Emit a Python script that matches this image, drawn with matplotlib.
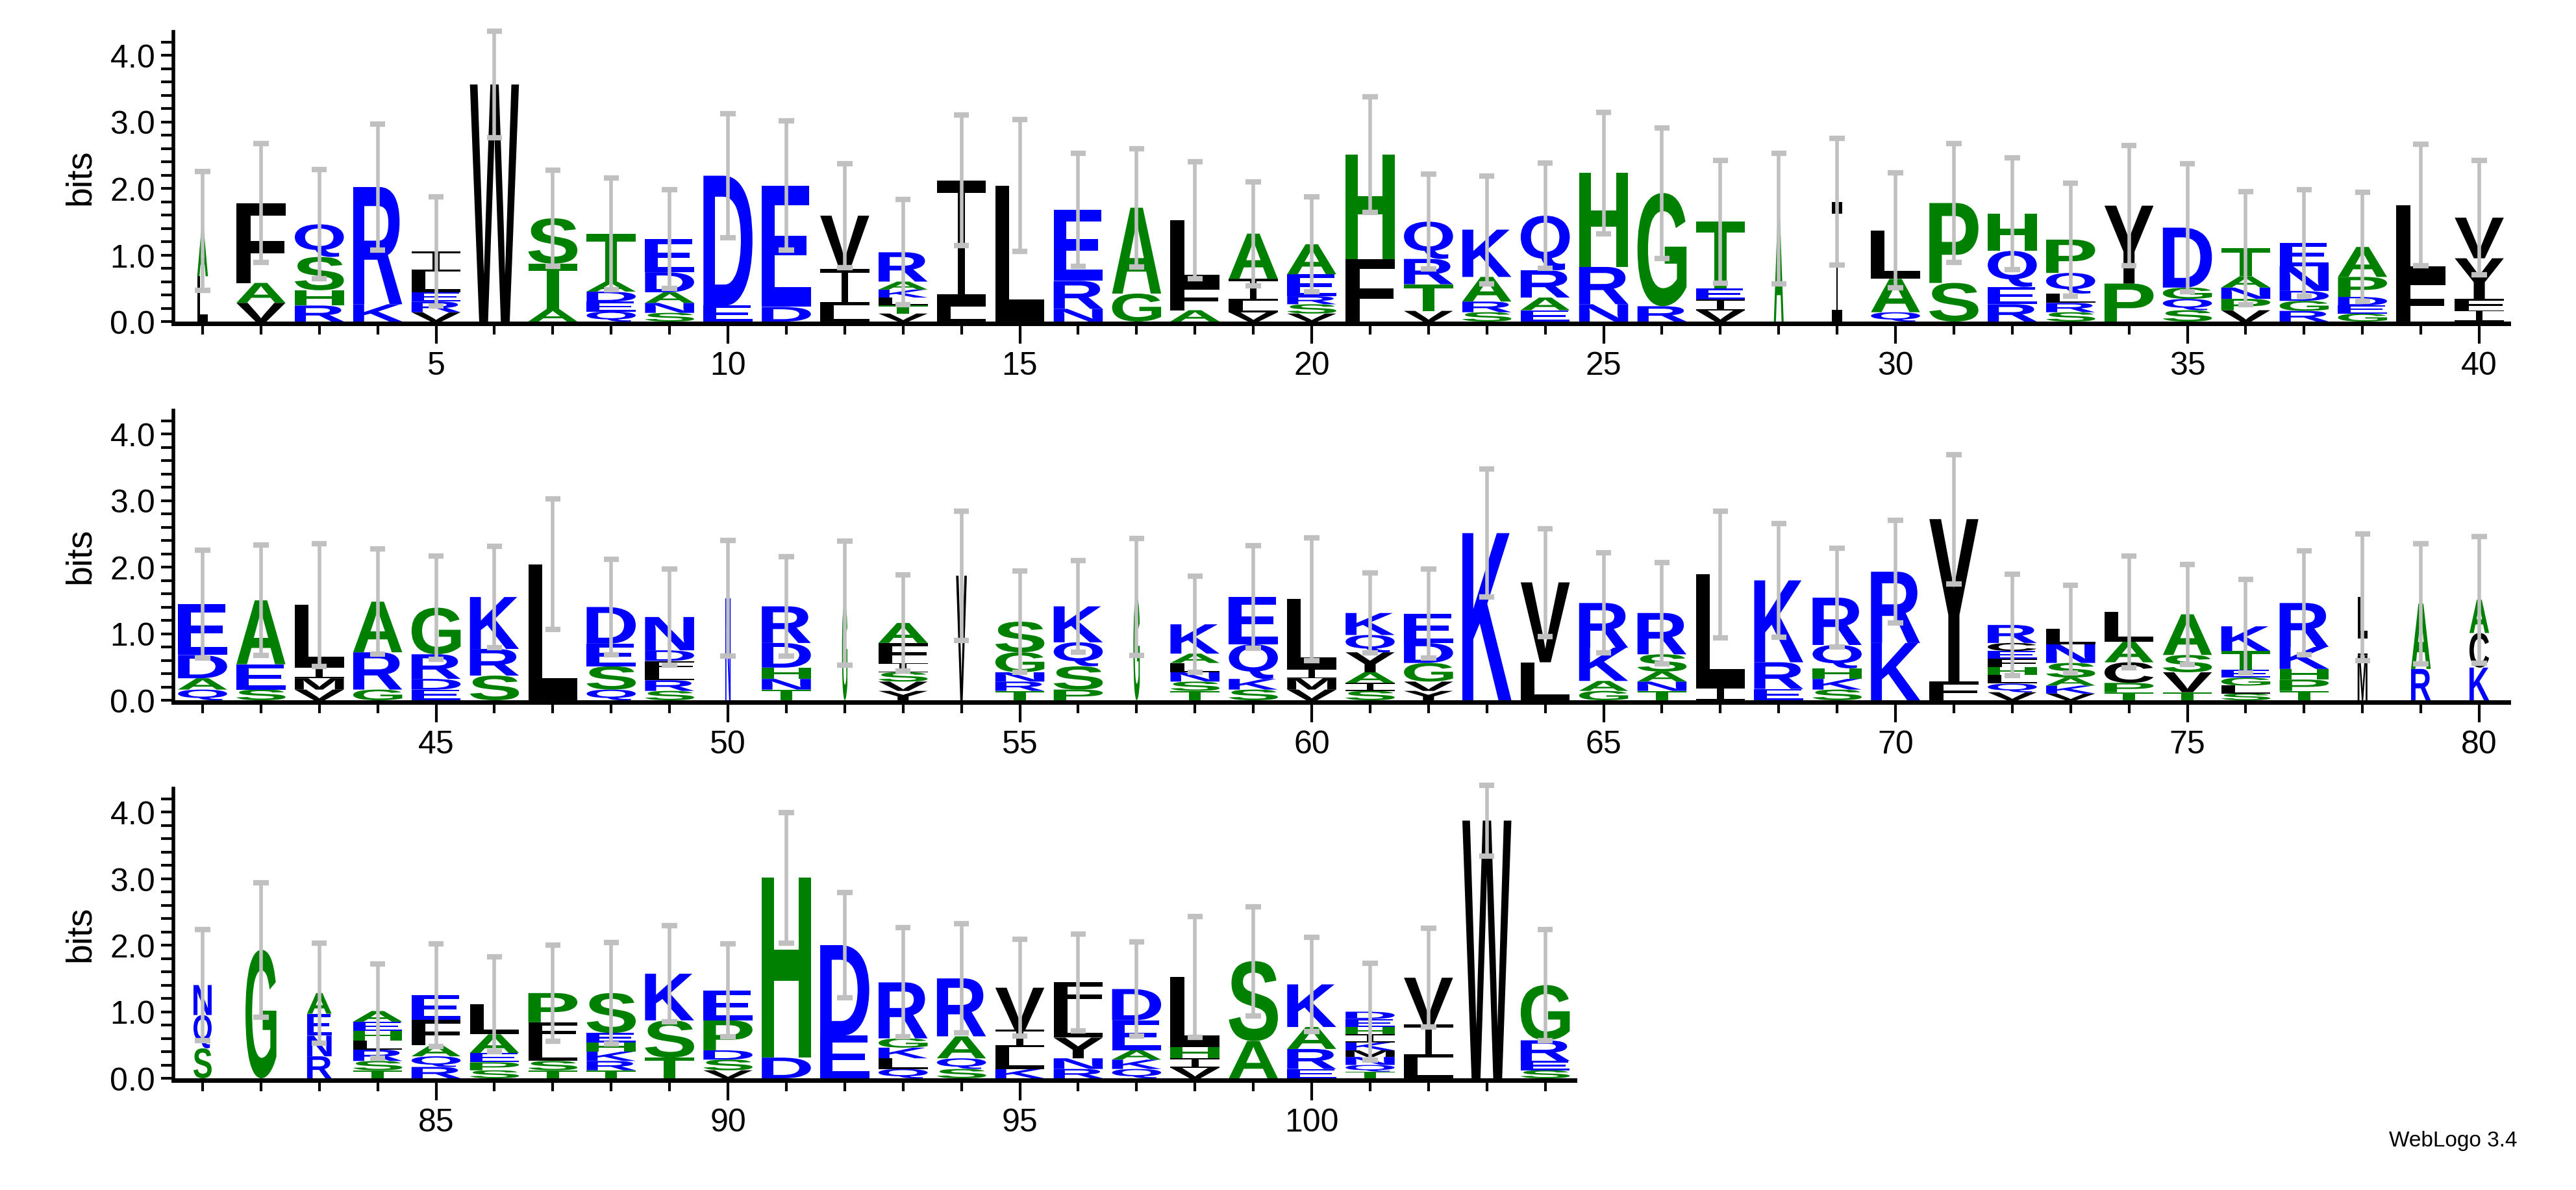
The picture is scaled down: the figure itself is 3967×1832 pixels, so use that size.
import matplotlib
matplotlib.use("Agg")
import matplotlib.pyplot as plt
from matplotlib.textpath import TextPath
from matplotlib.font_manager import FontProperties
from matplotlib.patches import PathPatch
from matplotlib.path import Path
from matplotlib.transforms import Affine2D

# letters per position, bottom -> top
letters = ["LA","VAF","RHSQ","KR","VRELI","W","ATS","QEDAT","SNADE","ED",
           "DE","LIV","VTLKAR","LI","L","NRE","GA","AFL","VLIA","VSREA",
           "FH","VTRQ","SRAK","EARQ","NRH","RG","VIET","A","I","QAL",
           "SP","REQH","SRLQP","PY","SQGD","VPNAT","RGDNE","GEDPA","FL","IFYV",
           "QADE","SEA","VMIL","GRA","EDRG","SRK","L","QSED","SRLFDN","N",
           "TNHDR","G","YVSIFA","V","TRNGS","PSQK","G","TSNLAK","SKQE","VMIL",
           "SIAYQK","YVGDE","K","LV","GAKR","TNASR","IL","ERK","SKHQR","KR",
           "FY","VQLHFECR","VKASNL","TPCAL","TVSA","SLGETK","TPHKR","MIL","RA","KCA",
           "SQN","G","RNEA","TSRLHEA","RQAFE","SPEAL","TSLFP","TRKHES","TSK","VSDPE",
           "DH","ED","QLKGR","SQAR","KLIV","RNYLF","QKAED","VIHL","AS","ERAK",
           "TQNMKIHED","LIV","W","SERG"]
heights = [[0.68,0.68],[0.28,0.30,1.20],[0.24,0.23,0.50,0.49],[0.26,1.76],[0.14,0.16,0.14,0.31,0.30],
           [3.56],[0.19,0.68,0.68],[0.15,0.15,0.15,0.15,0.72],[0.13,0.15,0.16,0.30,0.50],[0.24,1.95],
           [0.22,1.82],[0.24,0.55,0.80],[0.12,0.12,0.12,0.12,0.12,0.44],[0.22,1.90],[2.04],
           [0.19,0.42,1.07],[0.42,1.29],[0.17,0.37,0.98],[0.14,0.17,0.33,0.68],[0.12,0.14,0.12,0.33,0.45],
           [0.94,1.57],[0.16,0.40,0.38,0.56],[0.14,0.16,0.37,0.71],[0.17,0.19,0.41,0.82],[0.26,0.56,1.41],
           [0.23,1.70],[0.17,0.16,0.17,1.00],[1.55],[1.80],[0.14,0.50,0.73],
           [0.58,1.20],[0.26,0.26,0.54,0.56],[0.14,0.14,0.14,0.31,0.50],[0.57,1.17],[0.17,0.17,0.17,0.90],
           [0.17,0.17,0.17,0.17,0.42],[0.16,0.15,0.15,0.37,0.35],[0.12,0.12,0.13,0.30,0.45],[0.65,1.10],[0.17,0.17,0.61,0.61],
           [0.16,0.17,0.35,0.76],[0.16,0.38,0.96],[0.16,0.17,0.17,0.93],[0.16,0.56,0.76],[0.16,0.16,0.37,0.70],
           [0.37,0.40,0.78],[2.04],[0.16,0.35,0.34,0.55],[0.14,0.16,0.14,0.15,0.16,0.50],[1.53],
           [0.16,0.16,0.17,0.37,0.55],[1.46],[0.14,0.14,0.14,0.14,0.30,0.30],[1.87],[0.14,0.14,0.14,0.30,0.46],
           [0.16,0.35,0.36,0.54],[1.55],[0.14,0.14,0.14,0.14,0.14,0.44],[0.16,0.16,0.52,0.71],[0.16,0.17,0.14,1.05],
           [0.14,0.12,0.16,0.30,0.26,0.33],[0.14,0.14,0.28,0.30,0.44],[2.51],[0.57,1.20],[0.14,0.15,0.50,0.67],
           [0.14,0.14,0.15,0.26,0.62],[0.19,1.70],[0.17,0.40,1.23],[0.16,0.16,0.16,0.35,0.71],[0.86,1.07],
           [0.28,2.44],[0.12,0.13,0.13,0.12,0.12,0.12,0.12,0.27],[0.10,0.12,0.12,0.22,0.28,0.23],[0.12,0.14,0.31,0.31,0.45],[0.12,0.30,0.26,0.61],
           [0.10,0.12,0.12,0.12,0.28,0.37],[0.14,0.17,0.16,0.33,0.66],[0.67,0.28,0.60],[0.47,0.98],[0.49,0.52,0.50],
           [0.45,0.50,0.45],[1.93],[0.33,0.31,0.33,0.31],[0.12,0.14,0.17,0.14,0.14,0.14,0.16],[0.17,0.16,0.17,0.38,0.37],
           [0.12,0.12,0.14,0.28,0.45],[0.12,0.14,0.30,0.28,0.44],[0.12,0.14,0.14,0.14,0.14,0.60],[0.31,0.56,0.70],[0.12,0.16,0.14,0.45,0.45],
           [0.31,2.70],[0.64,1.36],[0.14,0.16,0.16,0.14,0.84],[0.14,0.16,0.33,0.87],[0.14,0.33,0.26,0.63],
           [0.14,0.16,0.31,0.44,0.39],[0.14,0.14,0.14,0.45,0.47],[0.16,0.14,0.17,1.05],[0.56,1.20],[0.14,0.30,0.33,0.64],
           [0.10,0.10,0.12,0.10,0.12,0.12,0.11,0.12,0.11],[0.31,0.50,0.70],[3.87],[0.12,0.14,0.31,0.83]]
err_top = [2.25,2.67,2.28,2.97,1.87,4.36,2.27,2.16,1.98,3.12,
           3.01,2.37,1.83,3.10,3.03,2.53,2.60,2.40,2.10,1.87,
           3.38,2.21,2.19,2.38,3.14,2.91,2.42,2.53,2.75,2.23,
           2.67,2.46,2.08,2.64,2.37,1.95,1.98,1.94,2.66,2.42,
           2.25,2.33,2.35,2.27,2.17,2.31,3.02,2.12,1.97,2.40,
           2.16,2.39,1.88,2.84,1.94,2.10,2.43,1.86,2.32,2.44,
           1.91,1.97,3.47,2.58,2.21,2.07,2.84,2.65,2.28,2.70,
           3.69,1.89,1.73,2.17,2.04,1.81,2.24,2.50,2.35,2.46,
           2.23,2.94,2.03,1.72,2.02,1.82,2.00,2.04,2.29,2.02,
           3.99,2.79,2.26,2.32,2.09,2.17,2.05,2.43,2.58,2.12,
           1.73,2.25,4.40,2.23]
stack_width = {1:0.22, 28:0.2, 29:0.22, 50:0.11, 52:0.11, 54:0.22, 57:0.13,
               78:0.2, 79:0.4, 80:0.4, 81:0.37, 82:0.63, 83:0.5}
rows = [(1, 40, [5,10,15,20,25,30,35,40]),
        (41, 80, [45,50,55,60,65,70,75,80]),
        (81, 104, [85,90,95,100])]

GREEN, BLUE, BLACK = "#008000", "#0000ff", "#000000"
colors = {}
for c in "AGSTHP": colors[c] = GREEN
for c in "DEKRNQ": colors[c] = BLUE
for c in "LIVFWYMC": colors[c] = BLACK

W, H = 3967, 1833
fig = plt.figure(figsize=(W/100, H/100), dpi=100)
fp = FontProperties(family="Liberation Sans", weight="bold")
tickfont = dict(family="Liberation Sans", size=36)

def serif_I():
    # unit-box serif "I": top bar, stem, bottom bar
    bar, stem = 0.1, 0.14
    rects = [(0, 0, 1, bar), (0.5-stem/2, bar, 0.5+stem/2, 1-bar), (0, 1-bar, 1, 1)]
    verts, codes = [], []
    for x0, y0, x1, y1 in rects:
        verts += [(x0, y0), (x1, y0), (x1, y1), (x0, y1), (x0, y0)]
        codes += [Path.MOVETO, Path.LINETO, Path.LINETO, Path.LINETO, Path.CLOSEPOLY]
    return Path(verts, codes)

cache = {}
def glyph(ch):
    if ch not in cache:
        if ch == "I":
            p = serif_I()
        else:
            p = TextPath((0, 0), ch, size=1, prop=fp)
        cache[ch] = (p, p.get_extents())
    return cache[ch]

bottoms_px = [496, 1079, 1661]
ppos = 89.9
pbit = 102.5
ytop = 4.35
left_px = 267
for (start, end, labs), bpx in zip(rows, bottoms_px):
    n = end - start + 1
    ax = fig.add_axes([left_px/W, 1 - bpx/H, n*ppos/W, ytop*pbit/H])
    ax.set_xlim(start-0.5, end+0.5)
    ax.set_ylim(0, ytop)
    for pos in range(start, end+1):
        i = pos - 1
        y0 = 0.0
        wfrac = stack_width.get(pos, 1.0) * 0.84
        for ch, h in zip(letters[i], heights[i]):
            p, bb = glyph(ch)
            t = (Affine2D().translate(-bb.x0, -bb.y0)
                 .scale(wfrac/bb.width, h/bb.height)
                 .translate(pos - wfrac/2, y0))
            ax.add_patch(PathPatch(t.transform_path(p), fc=colors[ch], ec="none", lw=0))
            y0 += h
        tot = y0
        e = err_top[i] - tot
        ax.plot([pos, pos], [tot-e, tot+e], color="#c0c0c0", lw=4, solid_capstyle="butt", zorder=5, clip_on=False)
        for yy in (tot-e, tot+e):
            ax.plot([pos-0.13, pos+0.13], [yy, yy], color="#c0c0c0", lw=6, solid_capstyle="butt", zorder=5, clip_on=False)
    for s in ("top", "right"):
        ax.spines[s].set_visible(False)
    ax.spines["left"].set_linewidth(4)
    ax.spines["bottom"].set_linewidth(5)
    ax.spines["bottom"].set_position(("data", -0.03))
    ax.set_xticks(labs)
    ax.set_xticklabels([str(v) for v in labs], fontdict=tickfont)
    ax.set_xticks(range(start, end+1), minor=True)
    ax.tick_params(axis="x", which="major", length=22, width=3, pad=8)
    ax.tick_params(axis="x", which="minor", length=12, width=3)
    ax.set_yticks([0, 1, 2, 3, 4])
    ax.set_yticklabels(["0.0", "1.0", "2.0", "3.0", "4.0"], fontdict=tickfont)
    ax.set_yticks([k*0.2 for k in range(22)], minor=True)
    ax.tick_params(axis="y", which="both", length=14, width=3, pad=6)
    ax.set_ylabel("bits", fontsize=40, family="Liberation Sans", labelpad=14)

fig.text(3778/W, 1 - 1757/H, "WebLogo 3.4", fontsize=24, family="Liberation Sans", ha="center", va="center")
fig.savefig("out.png", dpi=100)
